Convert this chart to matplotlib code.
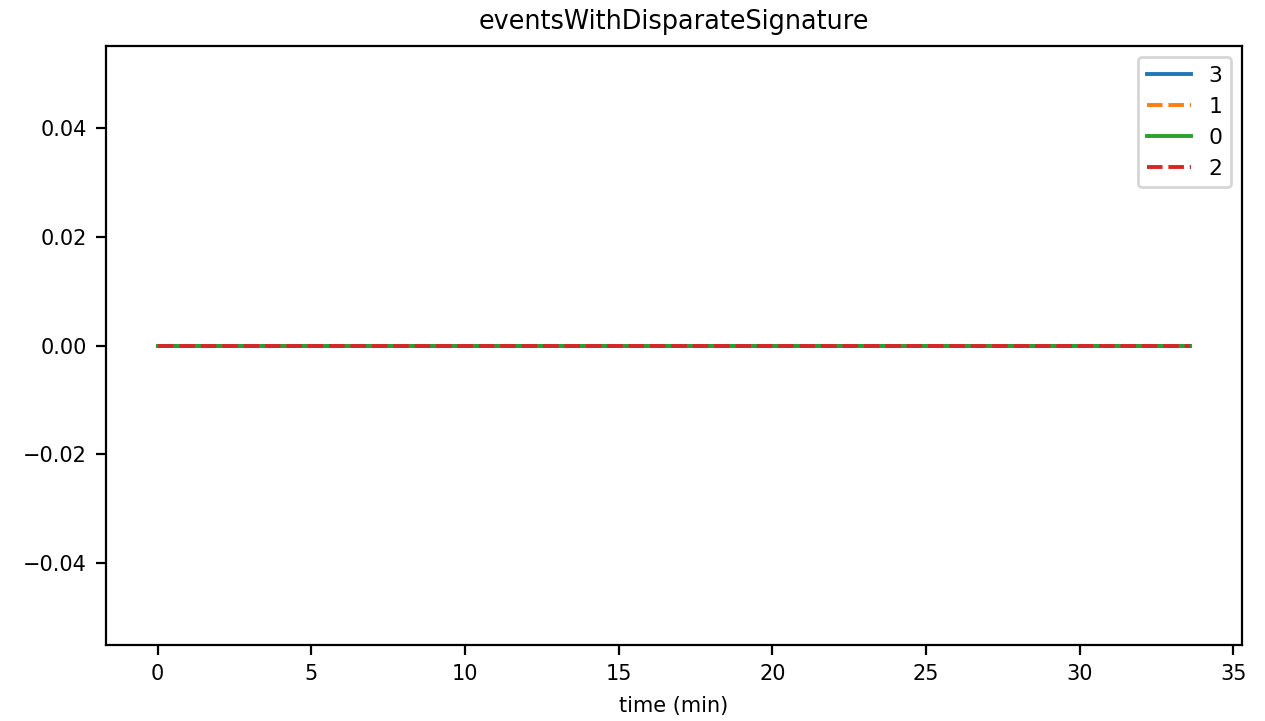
import numpy as np
import matplotlib.pyplot as plt

title = "eventsWithDisparateSignature"
labels = ["3", "1", "0", "2"]
colors = ["#1f77b4", "#ff7f0e", "#2ca02c", "#d62728"]
dashes = [None, (4, 1.5), None, (4, 1.5)]
time_min = [0.0, 4.2, 8.4, 12.6, 16.8, 21.0, 25.2, 29.4, 33.6]
values = {
    "3": [0, 0, 0, 0, 0, 0, 0, 0, 0],
    "1": [0, 0, 0, 0, 0, 0, 0, 0, 0],
    "0": [0, 0, 0, 0, 0, 0, 0, 0, 0],
    "2": [0, 0, 0, 0, 0, 0, 0, 0, 0],
}

plt.rcParams['font.size'] = 7.5
dpi = 200
fig = plt.figure(figsize=(1265 / dpi, 721 / dpi), dpi=dpi)
ax = fig.add_axes([106 / 1265, 1 - 645 / 721, (1242 - 106) / 1265, (645 - 46) / 721])

for lab, c, d in zip(labels, colors, dashes):
    line, = ax.plot(time_min, values[lab], color=c, linewidth=1.4, label=lab)
    if d is not None:
        line.set_dashes(d)

ax.set_title(title, fontsize=9.2)
ax.set_xlabel("time (min)")
ax.legend(loc="upper right", handlelength=2.0, fontsize=7.9)

fig.savefig("out.png", dpi=dpi)
